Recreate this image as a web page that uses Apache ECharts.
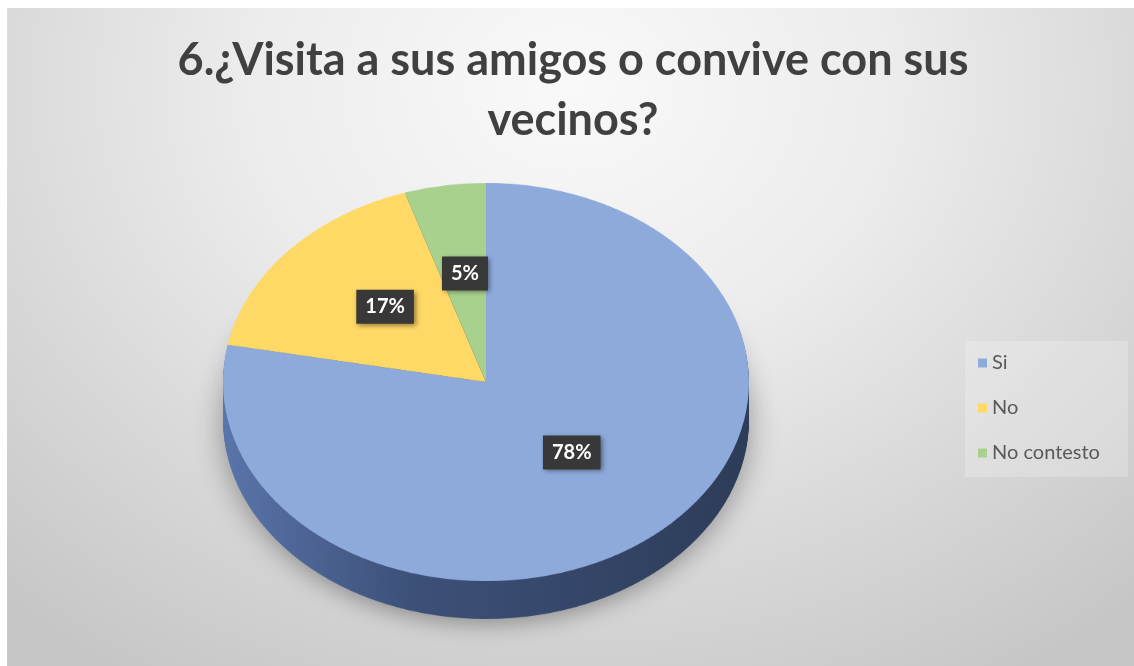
<!DOCTYPE html>
<html><head><meta charset="utf-8">
<script src="https://cdn.jsdelivr.net/npm/echarts@6/dist/echarts.min.js"></script>
<style>
html,body{margin:0;padding:0;background:#fff;width:1134px;height:666px;overflow:hidden}
#frame{position:absolute;left:7px;top:8px;width:1127px;height:658px;
  background:radial-gradient(ellipse 75% 105% at 50% 12%, #f9f9f9 0%, #ececec 38%, #d8d8d8 70%, #c6c6c6 100%);}
#pie{position:absolute;left:0;top:0;width:1134px;height:900px;transform-origin:486px 382px;transform:scaleY(0.757)}
#main{position:absolute;left:0;top:0;width:1134px;height:666px}
</style></head>
<body><div id="frame"></div><div id="pie"></div><div id="main"></div>
<script>
// ---- data ----
const categories = ['Si', 'No', 'No contesto'];
const values = [78, 17, 5];
const sliceColors = ['#8eaadb', '#ffd966', '#a9d18e'];
const titleLines = ['6.¿Visita a sus amigos o convive con sus', 'vecinos?'];

// ---- geometry / style ----
const CX = 486, CY = 382, R = 263, SQUASH = 0.757;
const LAYERS = 25, STEP = 2;
const LABEL_LIFT = -8;
const FONT = 'Lato, "Open Sans", sans-serif';

const pieData = categories.map((n, i) => ({ name: n, value: values[i] }));

const sideColor = {
  type: 'linear', x: 0, y: 0, x2: 1, y2: 0,
  colorStops: [
    { offset: 0, color: '#5a75ab' },
    { offset: 0.35, color: '#3d5179' },
    { offset: 1, color: '#2d3c58' }
  ]
};

const pieSeries = [];
for (let k = LAYERS; k >= 1; k--) {
  pieSeries.push({
    type: 'pie', silent: true, z: 1,
    center: [CX, CY + k * STEP], radius: R,
    startAngle: 90, clockwise: true,
    label: { show: false }, labelLine: { show: false },
    itemStyle: k === LAYERS
      ? { color: sideColor, shadowBlur: 30, shadowColor: 'rgba(0,0,0,0.35)', shadowOffsetY: 6 }
      : { color: sideColor },
    animation: false,
    data: pieData
  });
}
pieSeries.push({
  type: 'pie', silent: true, z: 3,
  center: [CX, CY], radius: R,
  startAngle: 90, clockwise: true,
  label: { show: false }, labelLine: { show: false },
  animation: false,
  data: pieData.map((d, i) => ({ name: d.name, value: d.value, itemStyle: { color: sliceColors[i] } }))
});

const pieChart = echarts.init(document.getElementById('pie'), null, { renderer: 'canvas' });
pieChart.setOption({ animation: false, series: pieSeries });

const mainChart = echarts.init(document.getElementById('main'), null, { renderer: 'canvas' });
mainChart.setOption({
  animation: false,
  title: {
    text: titleLines.join('\n'),
    left: 568, top: 25, textAlign: 'center',
    textStyle: { fontFamily: FONT, fontSize: 45, fontWeight: 'bold', color: '#404040', lineHeight: 60 }
  },
  legend: {
    orient: 'vertical', left: 965, top: 341,
    selectedMode: false,
    icon: 'rect', itemWidth: 9, itemHeight: 9, itemGap: 25,
    padding: [12, 28, 14, 13],
    backgroundColor: 'rgba(255,255,255,0.22)',
    textStyle: { fontFamily: FONT, fontSize: 20, color: '#595959' },
    data: categories.map((n, i) => ({ name: n, itemStyle: { color: sliceColors[i] } }))
  },
  series: [{
    type: 'pie', silent: true,
    center: [CX, CY], radius: R,
    startAngle: 90, clockwise: true,
    itemStyle: { color: 'rgba(0,0,0,0)' },
    emphasis: { disabled: true },
    labelLine: { show: false },
    label: {
      show: true, position: 'inside',
      formatter: '{c}%',
      fontFamily: FONT, fontSize: 20, fontWeight: 'bold', color: '#ffffff',
      backgroundColor: '#383838', padding: [7, 9, 7, 9],
      shadowBlur: 5, shadowColor: 'rgba(0,0,0,0.45)', shadowOffsetX: 2, shadowOffsetY: 2
    },
    labelLayout: function (p) {
      const r = p.labelRect;
      const mid = r.y + r.height / 2;
      return { dy: (mid - CY) * (SQUASH - 1) + LABEL_LIFT };
    },
    data: pieData
  }]
});
</script>
</body></html>
